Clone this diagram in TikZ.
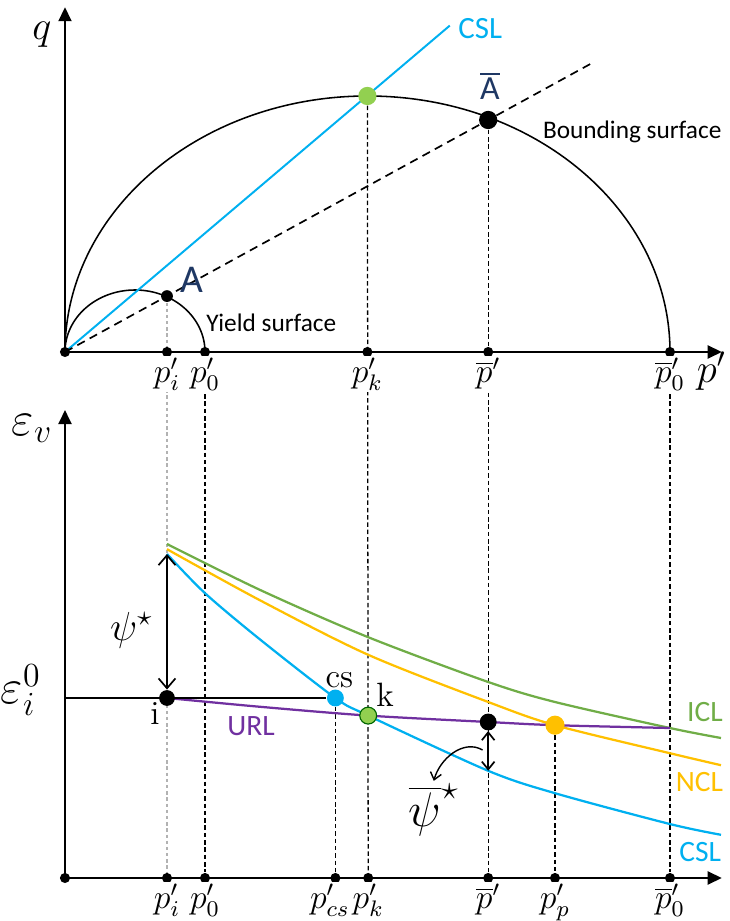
\documentclass[tikz,border=0pt]{standalone}
\usepackage{fontspec}
\setsansfont{Carlito}
\usetikzlibrary{arrows.meta, backgrounds}

\definecolor{cslblue}{RGB}{0,176,240}
\definecolor{iclgreen}{RGB}{112,173,71}
\definecolor{ptgreen}{RGB}{146,208,80}
\definecolor{nclorange}{RGB}{255,192,0}
\definecolor{urlpurple}{RGB}{112,48,160}
\definecolor{labelnavy}{RGB}{31,56,100}

\begin{document}
\begin{tikzpicture}[
    >={Triangle[length=5pt,width=4.6pt]},
    % Styles
    axis/.style={line width=0.8pt, ->},
    guide/.style={line width=0.45pt, dash pattern=on 1.6pt off 1pt},
    guide_gray/.style={guide, gray!60, dash pattern=on 1.2pt off 1pt},
    ratio_line/.style={line width=0.6pt, dash pattern=on 3pt off 2pt},
    surface/.style={line width=0.55pt},
    state_line/.style={line width=0.8pt},
    tick_dot/.style={circle, fill=black, inner sep=0pt, minimum size=3.6pt},
    state_dot/.style={circle, fill=black, inner sep=0pt, minimum size=6pt},
    tick_label/.style={font=\large, anchor=base, fill=white, inner sep=0.5pt},
    line_label/.style={font=\sffamily\fontsize{10.5}{12}\selectfont},
    surf_label/.style={font=\sffamily\fontsize{9}{11}\selectfont},
    pt_label/.style={font=\large},
    gap_arrow/.style={<->, >={Straight Barb[length=3.5pt,width=6pt]}, line width=0.6pt}
]
\useasboundingbox (-0.8125,-0.5375) rectangle (8.3125,10.975);

% 1. Stress plane q - p'
\begin{scope}[yshift=6.575cm]
\coordinate (q_end) at (0,4.31);
\coordinate (p_end_top) at (8.21,0);
\draw[axis] (0,0) -- (q_end);
\draw[axis] (0,0) -- (p_end_top);

% surfaces and lines
\draw[surface] (7.5625,0) arc[start angle=0, end angle=180, x radius=3.78125, y radius=3.2];
\draw[surface] (1.75,0) arc[start angle=0, end angle=180, x radius=0.875, y radius=0.775];
\draw[line width=0.7pt, cslblue] (0,0) -- (4.81,4.08);
\draw[ratio_line] (0,0) -- (6.625,3.632);

% points
\node[tick_dot] (O_top) at (0,0) {};
\foreach \name/\x/\lbl in {pi/1.275/{p'_i}, pz/1.75/{p'_0}, pk/3.78/{p'_k}, pb/5.29/{\overline{p}'}, pbz/7.5625/{\overline{p}'_0}} {
    \node[tick_dot] (top_\name) at (\x,0) {};
    \node[tick_label] at (\x,-0.38) {$\lbl$};
}
\node[state_dot, fill=ptgreen, minimum size=6.5pt] (k_top) at (3.78,3.2) {};
\node[state_dot, minimum size=6.5pt] (Abar_pt) at (5.29,2.9) {};
\node[tick_dot, minimum size=4.2pt] (A_pt) at (1.275,0.699) {};

% labels
\node[font=\Large] (q_lbl) at (-0.29,3.96) {$q$};
\node[font=\Large, anchor=base] (p_lbl) at (8.08,-0.38) {$p'$};
\node[line_label, font=\sffamily\fontsize{11}{13}\selectfont, text=cslblue] (csl_top_lbl) at (5.19,4.04) {CSL};
\node[surf_label] (bs_lbl) at (7.09,2.75) {Bounding surface};
\node[surf_label] (ys_lbl) at (2.58,0.36) {Yield surface};
\node[font=\sffamily\fontsize{14}{16}\selectfont, text=labelnavy] (A_lbl) at (1.58,0.906) {A};
\node[font=\sffamily\fontsize{12}{14}\selectfont, text=labelnavy] (Abar_lbl) at (5.31,3.325) {$\overline{\mbox{A}}$};
\end{scope}

% 2. Compression plane eps_v - p'
\coordinate (ev_end) at (0,5.85);
\coordinate (p_end_bot) at (8.21,0);
\coordinate (eps_start) at (0,2.25);
\coordinate (csl_top) at (1.275,4.05);
\coordinate (csl_b) at (5.29,1.34);
\draw[axis] (0,0) -- (ev_end);
\draw[axis] (0,0) -- (p_end_bot);

% state lines
\draw[state_line, iclgreen] plot[smooth] coordinates {(1.275,4.175) (2.44,3.6) (3.79,3.01) (5.29,2.45) (6.125,2.2) (7.56,1.875) (8.2,1.75)};
\draw[state_line, nclorange] plot[smooth] coordinates {(1.275,4.11) (2.44,3.47) (3.79,2.79) (5.29,2.2) (6.125,1.91) (7.56,1.56) (8.2,1.41)};
\draw[state_line, cslblue] plot[smooth] coordinates {(csl_top) (1.75,3.56) (2.44,2.98) (3.38,2.25) (3.79,2.03) (csl_b) (6.125,1.06) (7.56,0.675) (8.2,0.54)};
\draw[state_line, urlpurple] plot[smooth] coordinates {(1.275,2.25) (2.44,2.14) (3.79,2.03) (5.29,1.95) (6.125,1.91) (7.56,1.875)};

% points
\node[tick_dot] (O_bot) at (0,0) {};
\foreach \name/\x/\lbl in {pi/1.275/{p'_i}, pz/1.75/{p'_0}, pk/3.79/{p'_k}, pb/5.29/{\overline{p}'}, pp/6.125/{p'_p}, pbz/7.5625/{\overline{p}'_0}} {
    \node[tick_dot] (bot_\name) at (\x,0) {};
    \node[tick_label] at (\x,-0.38) {$\lbl$};
}
\node[tick_dot] (bot_pcs) at (3.38,0) {};
\node[tick_label, xshift=-2pt] at (3.38,-0.38) {$p'_{cs}$};
\node[state_dot, minimum size=5.6pt] (i_pt) at (1.275,2.25) {};
\node[state_dot, fill=cslblue] (cs_pt) at (3.38,2.25) {};
\node[state_dot, fill=ptgreen, draw=black!60!green, line width=0.4pt] (k_pt) at (3.79,2.03) {};
\node[state_dot] (ub_pt) at (5.29,1.95) {};
\node[state_dot, fill=nclorange, minimum size=6.8pt] (p_pt) at (6.125,1.91) {};
\draw[line width=0.5pt] (eps_start) -- (cs_pt);

% state parameter
\draw[gap_arrow] (i_pt) -- (csl_top);
\draw[gap_arrow, >={Straight Barb[length=2.8pt,width=4.5pt]}] (ub_pt) -- (csl_b);
\node[font=\Large] (psi_lbl) at (0.83,3.1) {$\psi^\star$};
\node[font=\LARGE, inner sep=1pt] (psib_lbl) at (4.61,0.85) {$\overline{\psi}^\star$};
\coordinate (arc_start) at (5.22,1.6);
\draw[-{Straight Barb[length=2.5pt,width=4pt]}, line width=0.5pt] (arc_start) to[out=150, in=75] (psib_lbl.north);

% labels
\node[font=\LARGE] (ev_lbl) at (-0.41,5.62) {$\varepsilon_v$};
\node[font=\LARGE] (e0_lbl) at (-0.55,2.35) {$\varepsilon_i^0$};
\node[pt_label] (i_lbl) at (1.125,2.06) {i};
\node[pt_label] (cs_lbl) at (3.43,2.475) {cs};
\node[pt_label] (k_lbl) at (4.0,2.29) {k};
\node[line_label, text=urlpurple] (url_lbl) at (2.325,1.9) {URL};
\node[line_label, text=iclgreen] (icl_lbl) at (8.0,2.07) {ICL};
\node[line_label, text=nclorange] (ncl_lbl) at (7.93,1.2) {NCL};
\node[line_label, text=cslblue] (csl_lbl) at (7.94,0.33) {CSL};

% vertical guides
\begin{pgfonlayer}{background}
\draw[guide_gray] (A_pt) -- (bot_pi);
\draw[guide] (top_pz) -- (bot_pz);
\draw[guide] (k_top) -- (bot_pk);
\draw[guide] (Abar_pt) -- (bot_pb);
\draw[guide] (top_pbz) -- (bot_pbz);
\draw[guide] (cs_pt) -- (bot_pcs);
\draw[guide] (p_pt) -- (bot_pp);
\end{pgfonlayer}
\end{tikzpicture}
\end{document}
